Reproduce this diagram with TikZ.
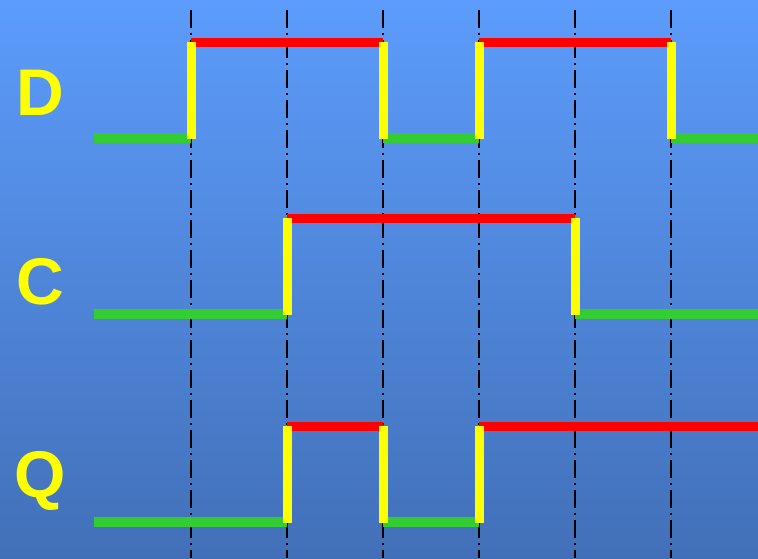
\documentclass[tikz,border=0pt]{standalone}
\usepackage{fontspec}
\setmainfont{Liberation Sans}
\definecolor{bgTop}{RGB}{92,156,252}
\definecolor{bgBot}{RGB}{66,112,184}
\definecolor{sigRed}{RGB}{255,0,0}
\definecolor{sigGreen}{RGB}{51,204,51}
\definecolor{sigYellow}{RGB}{255,255,0}
\begin{document}
\begin{tikzpicture}[x=1pt,y=-1pt,
  lo/.style={draw=sigGreen,line width=9.5pt},
  hi/.style={draw=sigRed,line width=9pt},
  edgeline/.style={draw=sigYellow,line width=9pt},
  gridline/.style={draw=black,line width=2pt,dash pattern=on 18pt off 5pt on 2pt off 5pt},
  lbl/.style={text=sigYellow,font=\fontsize{66}{66}\selectfont\bfseries,inner sep=0pt,anchor=base}]
\shade[top color=bgTop,bottom color=bgBot] (0,0) rectangle (758,558);
\useasboundingbox (0,0) rectangle (758,558);
% timing grid
\foreach \x in {191,287,383,479,575,671}
  \draw[gridline] (\x,10) -- (\x,558);
% labels
\node[lbl] (labD) at (40,115) {D};
\node[lbl] (labC) at (40,304) {C};
\node[lbl] (labQ) at (40,497) {Q};
% D
\draw[lo] (94,138) -- (191,138);
\draw[lo] (383,138) -- (479,138);
\draw[lo] (671,138) -- (758,138);
\draw[hi] (191,42) -- (383,42);
\draw[hi] (479,42) -- (671,42);
\foreach \x in {191,383,479,671}
  \draw[edgeline] (\x,42) -- (\x,138.5);
% C
\draw[lo] (94,314) -- (287,314);
\draw[lo] (575,314) -- (758,314);
\draw[hi] (287,218) -- (575,218);
\foreach \x in {287,575}
  \draw[edgeline] (\x,218) -- (\x,314.5);
% Q
\draw[lo] (94,522) -- (287,522);
\draw[lo] (383,522) -- (479,522);
\draw[hi] (287,426) -- (383,426);
\draw[hi] (479,426) -- (758,426);
\foreach \x in {287,383,479}
  \draw[edgeline] (\x,426) -- (\x,522.5);
\end{tikzpicture}
\end{document}
